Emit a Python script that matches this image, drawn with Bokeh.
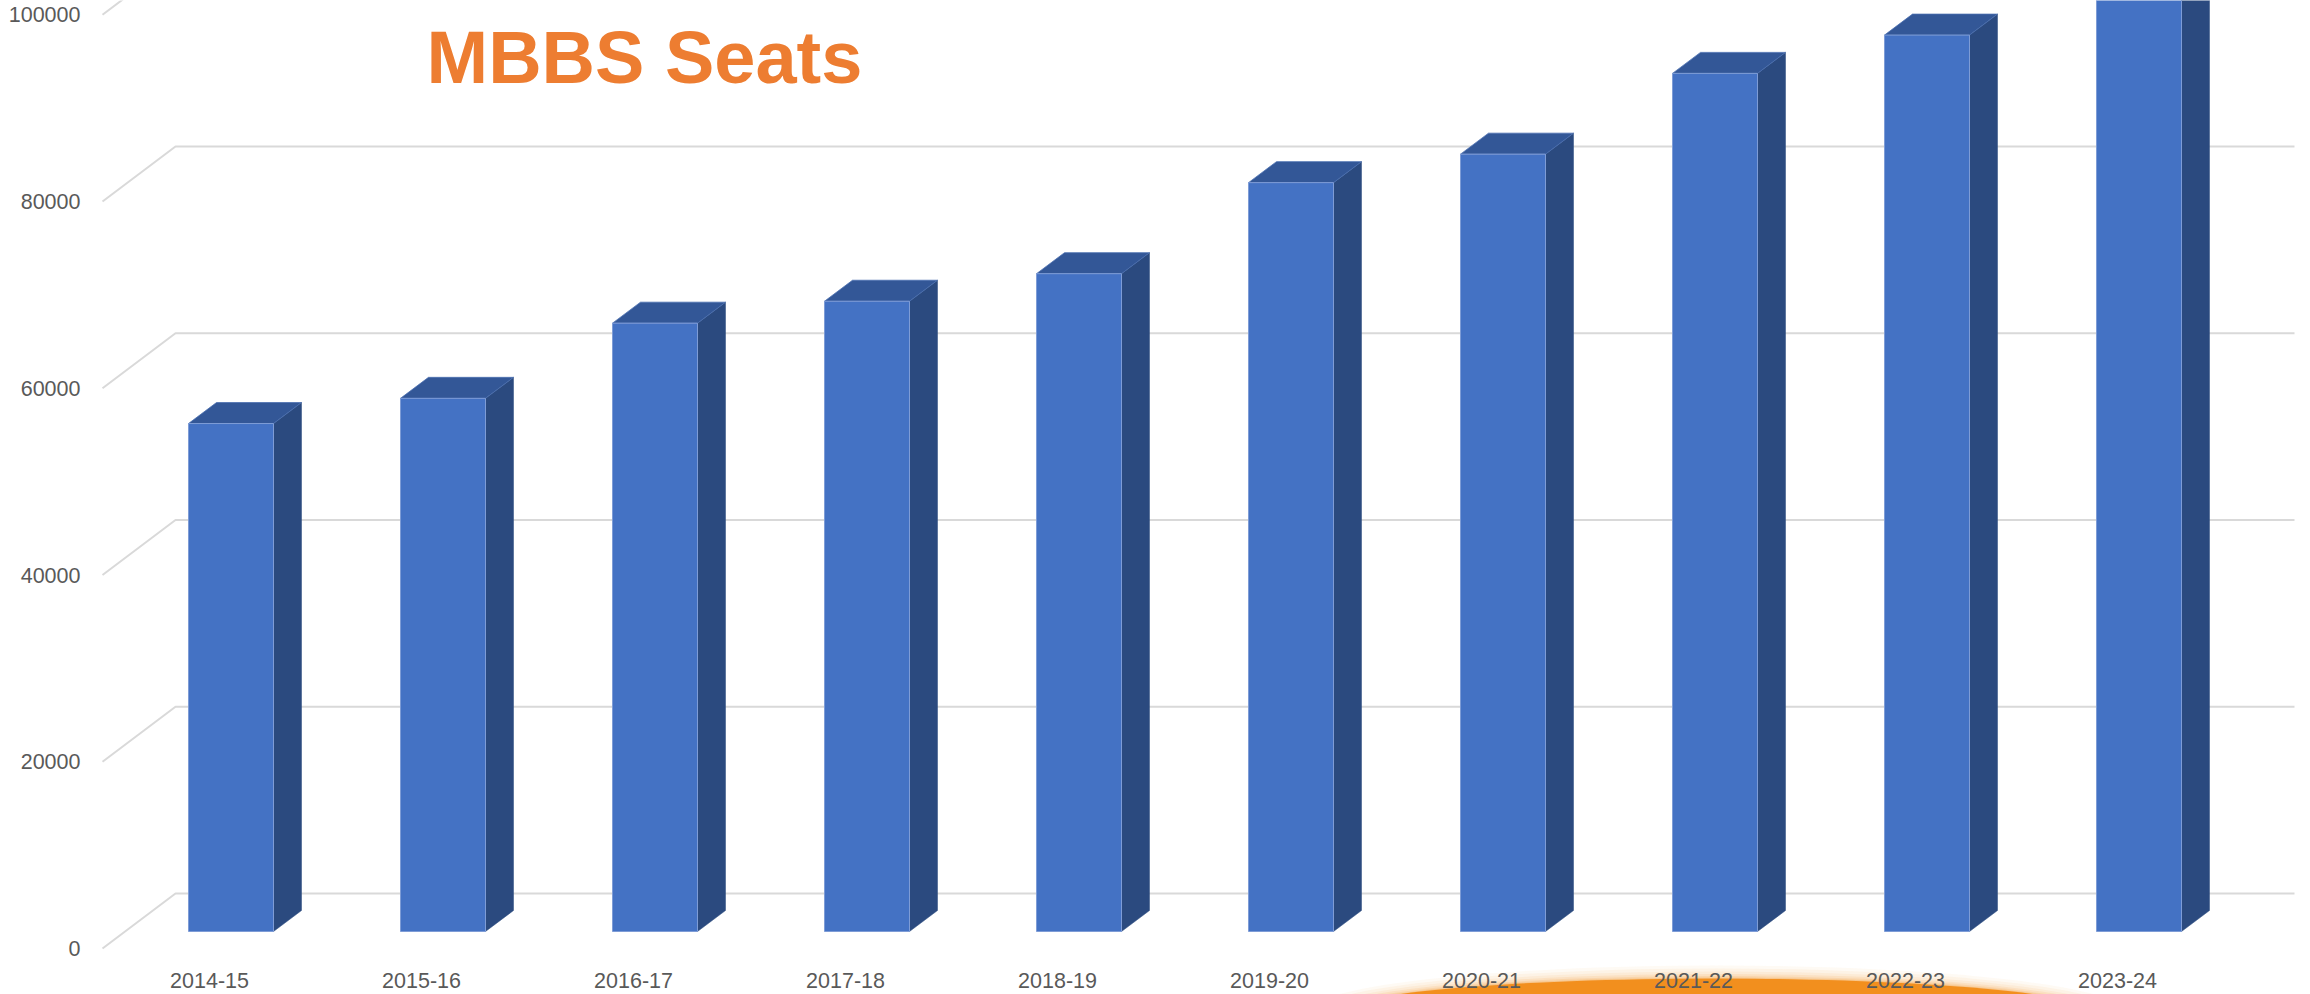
import numpy as np
from bokeh.plotting import figure
from bokeh.models import Range1d, FixedTicker, ColumnDataSource
from bokeh.core.properties import value
from bokeh.embed import file_html
from bokeh.resources import INLINE

# ---------------- data ----------------
years = ["2014-15", "2015-16", "2016-17", "2017-18", "2018-19",
         "2019-20", "2020-21", "2021-22", "2022-23", "2023-24"]
seats = [54400, 57100, 65150, 67500, 70450, 80200, 83250, 91900, 96000, 108000]
y_ticks = [0, 20000, 40000, 60000, 80000, 100000]
title_text = "MBBS Seats"

# ---------------- geometry (pixel scale helpers) ----------------
W, H = 2310, 994
LEFT = 95                     # frame left (pixels)
PX_PER_CAT = 212.0            # pixels per category
PX_PER_UNIT = 186.75 / 20000  # pixels per seat on the value axis
ZERO_PX = 948.0               # pixel row of value 0 on the label plane
FIRST_PX = 209.0              # pixel column of the first category

x0 = -(FIRST_PX - LEFT) / PX_PER_CAT
x1 = x0 + (W - LEFT) / PX_PER_CAT
y1 = ZERO_PX / PX_PER_UNIT
y0 = -(H - ZERO_PX) / PX_PER_UNIT

def dx(px):
    return px / PX_PER_CAT

def dy(px):
    return px / PX_PER_UNIT

def xpx(px):
    return x0 + (px - LEFT) / PX_PER_CAT

def ypx(px):
    return (ZERO_PX - px) / PX_PER_UNIT

p = figure(width=W, height=H, x_range=Range1d(x0, x1), y_range=Range1d(y0, y1),
           x_axis_location=None, y_axis_location="left",
           toolbar_location=None, output_backend="svg",
           min_border_left=LEFT, min_border_right=0, min_border_top=0, min_border_bottom=0,
           outline_line_color=None, background_fill_color="white", border_fill_color="white")
p.xgrid.visible = False
p.ygrid.visible = False

ax = p.yaxis[0]
ax.ticker = FixedTicker(ticks=y_ticks)
ax.axis_line_color = None
ax.major_tick_line_color = None
ax.minor_tick_line_color = None
ax.major_tick_out = 0
ax.major_tick_in = 0
ax.major_label_standoff = 15
ax.major_label_text_font = "Liberation Sans"
ax.major_label_text_font_size = "21.5px"
ax.major_label_text_color = "#595959"
ax.formatter.use_scientific = False

# ---------------- 3D gridlines (floor front edge -> back wall) ----------------
wall_dx, wall_dy = 73, 55
gx, gy = [], []
for t in y_ticks:
    gx.append([xpx(102), xpx(102 + wall_dx), xpx(2294)])
    gy.append([t, t + dy(wall_dy), t + dy(wall_dy)])
p.multi_line(gx, gy, line_color="#D9D9D9", line_width=2)

# ---------------- orange decorative arc at bottom (soft edge) ----------------
cx = xpx(1716)
cy = ypx(1013)
for grow, alpha in [(26, 0.06), (20, 0.08), (14, 0.10), (9, 0.14), (5, 0.2), (2, 0.3)]:
    p.ellipse(x=[cx], y=[cy], width=[dx(760 + 2.5 * grow)], height=[dy(70 + grow)],
              fill_color="#F5A54A", fill_alpha=alpha, line_color=None)
p.ellipse(x=[cx], y=[cy], width=[dx(760)], height=[dy(70)],
          fill_color="#F28F1E", line_color=None)

# ---------------- 3D bars ----------------
fl, fr = -21, 64          # front face edges relative to category centre (px)
f_up = 17                 # front face lifted above label plane (px)
d_x, d_y = 28, 21         # bar depth (px)
xs = np.arange(len(years), dtype=float)
v = np.array(seats, dtype=float)

left = xs + dx(fl)
right = xs + dx(fr)
bottom = np.full_like(v, dy(f_up))
top = v + dy(f_up)

side_x = [[r, r + dx(d_x), r + dx(d_x), r] for r in right]
side_y = [[b, b + dy(d_y), t + dy(d_y), t] for b, t in zip(bottom, top)]
top_x = [[l, l + dx(d_x), r + dx(d_x), r] for l, r in zip(left, right)]
top_y = [[t, t + dy(d_y), t + dy(d_y), t] for t in top]

p.patches(side_x, side_y, fill_color="#2B4A7F", line_color="#2B4A7F", line_width=0.5)
p.patches(top_x, top_y, fill_color="#335797", line_color="#4A6FB0", line_width=0.8)
p.quad(left=left, right=right, bottom=bottom, top=top,
       fill_color="#4472C4", line_color="#7E9CD6", line_width=1)

# ---------------- category labels ----------------
src = ColumnDataSource(dict(x=xs, y=np.full_like(xs, ypx(980)), t=years))
p.text(x="x", y="y", text="t", source=src, text_align="center", text_baseline="middle",
       text_font=value("Liberation Sans"), text_font_size="21.5px", text_color="#595959")

# ---------------- title ----------------
p.text(x=[xpx(426)], y=[ypx(57)], text=[title_text], text_align="left",
       text_baseline="alphabetic", text_font=value("Liberation Sans"),
       text_font_size="74px", text_font_style="bold", text_color="#ED7D31")

open("out.html", "w").write(file_html(p, INLINE))
